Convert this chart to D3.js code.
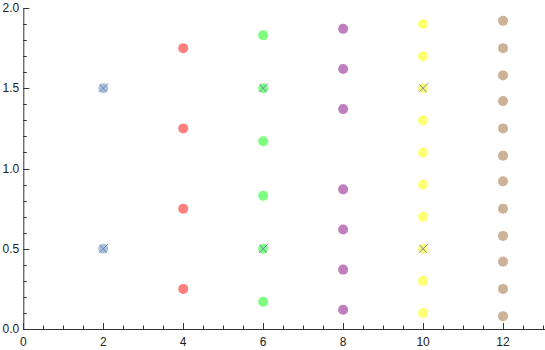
<!DOCTYPE html>
<html>
<head>
<meta charset="utf-8">
<script src="https://cdn.jsdelivr.net/npm/d3@7"></script>
<style>
  body { margin: 0; background: #fff; }
  text { font-family: "Liberation Sans", Arial, sans-serif; font-size: 12px; fill: #222; }
</style>
</head>
<body>
<div id="chart"></div>
<script>
// point groups, one per column
var blueY = [0.5, 1.5];
var redY = [0.25, 0.75, 1.25, 1.75];
var greenY = [0.17, 0.5, 0.83, 1.17, 1.5, 1.83];
var purpleY = [0.12, 0.37, 0.62, 0.87, 1.37, 1.62, 1.87];
var yellowY = [0.1, 0.3, 0.5, 0.7, 0.9, 1.1, 1.3, 1.5, 1.7, 1.9];
var brownY = [0.08, 0.25, 0.42, 0.58, 0.75, 0.92, 1.08, 1.25, 1.42, 1.58, 1.75, 1.92];

// cross markers
var crossX = [2, 2, 6, 6, 10, 10];
var crossY = [0.5, 1.5, 0.5, 1.5, 0.5, 1.5];

var xTicks = [0, 2, 4, 6, 8, 10, 12];
var yTicks = [0.0, 0.5, 1.0, 1.5, 2.0];

var groups = [
  { x: 2, ys: blueY, color: "#5e81b5", op: 0.5 },
  { x: 4, ys: redY, color: "#ff0000", op: 0.5 },
  { x: 6, ys: greenY, color: "#00ff00", op: 0.5 },
  { x: 8, ys: purpleY, color: "#800080", op: 0.5 },
  { x: 10, ys: yellowY, color: "#ffff00", op: 0.55 },
  { x: 12, ys: brownY, color: "#996633", op: 0.5 }
];

var width = 545, height = 350;

var x = d3.scaleLinear().domain([0, 13.05]).range([23.3, 545]);
var y = d3.scaleLinear().domain([0, 2]).range([329, 8]);

var svg = d3.select("#chart").append("svg")
  .attr("width", width)
  .attr("height", height);

// minor ticks
var xMinor = d3.range(0, 13.01, 0.5).filter(function(v){ return v % 2 != 0; });
var yMinor = d3.range(0, 2.001, 0.1).map(function(v){ return +v.toFixed(1); })
  .filter(function(v){ return Math.abs(v*2 - Math.round(v*2)) > 1e-6; });

var axes = svg.append("g").attr("stroke", "#333").attr("stroke-width", 1);

axes.append("line")
  .attr("x1", x(0)).attr("x2", 545)
  .attr("y1", y(0) + 0.5).attr("y2", y(0) + 0.5);
axes.append("line")
  .attr("x1", x(0) + 0.5).attr("x2", x(0) + 0.5)
  .attr("y1", y(0)).attr("y2", y(2));

axes.selectAll(".xmaj").data(xTicks).enter().append("line")
  .attr("x1", function(d){ return Math.round(x(d)) + 0.5; })
  .attr("x2", function(d){ return Math.round(x(d)) + 0.5; })
  .attr("y1", y(0)).attr("y2", y(0) - 6);
axes.selectAll(".xmin").data(xMinor).enter().append("line")
  .attr("x1", function(d){ return Math.round(x(d)) + 0.5; })
  .attr("x2", function(d){ return Math.round(x(d)) + 0.5; })
  .attr("y1", y(0)).attr("y2", y(0) - 3.5);

axes.selectAll(".ymaj").data(yTicks).enter().append("line")
  .attr("x1", x(0)).attr("x2", x(0) + 6)
  .attr("y1", function(d){ return Math.round(y(d)) + 0.5; })
  .attr("y2", function(d){ return Math.round(y(d)) + 0.5; });
axes.selectAll(".ymin").data(yMinor).enter().append("line")
  .attr("x1", x(0)).attr("x2", x(0) + 3.5)
  .attr("y1", function(d){ return Math.round(y(d)) + 0.5; })
  .attr("y2", function(d){ return Math.round(y(d)) + 0.5; });

svg.selectAll(".xlab").data(xTicks).enter().append("text")
  .attr("x", function(d){ return x(d); })
  .attr("y", 346)
  .attr("text-anchor", "middle")
  .text(function(d){ return d; });

svg.selectAll(".ylab").data(yTicks).enter().append("text")
  .attr("x", x(0) - 4)
  .attr("y", function(d){ return y(d) + 4; })
  .attr("text-anchor", "end")
  .text(function(d){ return d.toFixed(1); });

// dots
groups.forEach(function(g){
  svg.append("g").selectAll("circle").data(g.ys).enter().append("circle")
    .attr("cx", x(g.x))
    .attr("cy", function(d){ return y(d); })
    .attr("r", 5)
    .attr("fill", g.color)
    .attr("fill-opacity", g.op);
});

// crosses
var cross = svg.append("g").attr("stroke", "#5e81b5").attr("stroke-width", 1)
  .attr("stroke-opacity", 0.9);
crossX.forEach(function(cx, i){
  var px = x(cx), py = y(crossY[i]);
  cross.append("line").attr("x1", px - 3.5).attr("y1", py - 4).attr("x2", px + 3.5).attr("y2", py + 4);
  cross.append("line").attr("x1", px - 4).attr("y1", py + 4).attr("x2", px + 5).attr("y2", py - 5);
});
</script>
</body>
</html>
